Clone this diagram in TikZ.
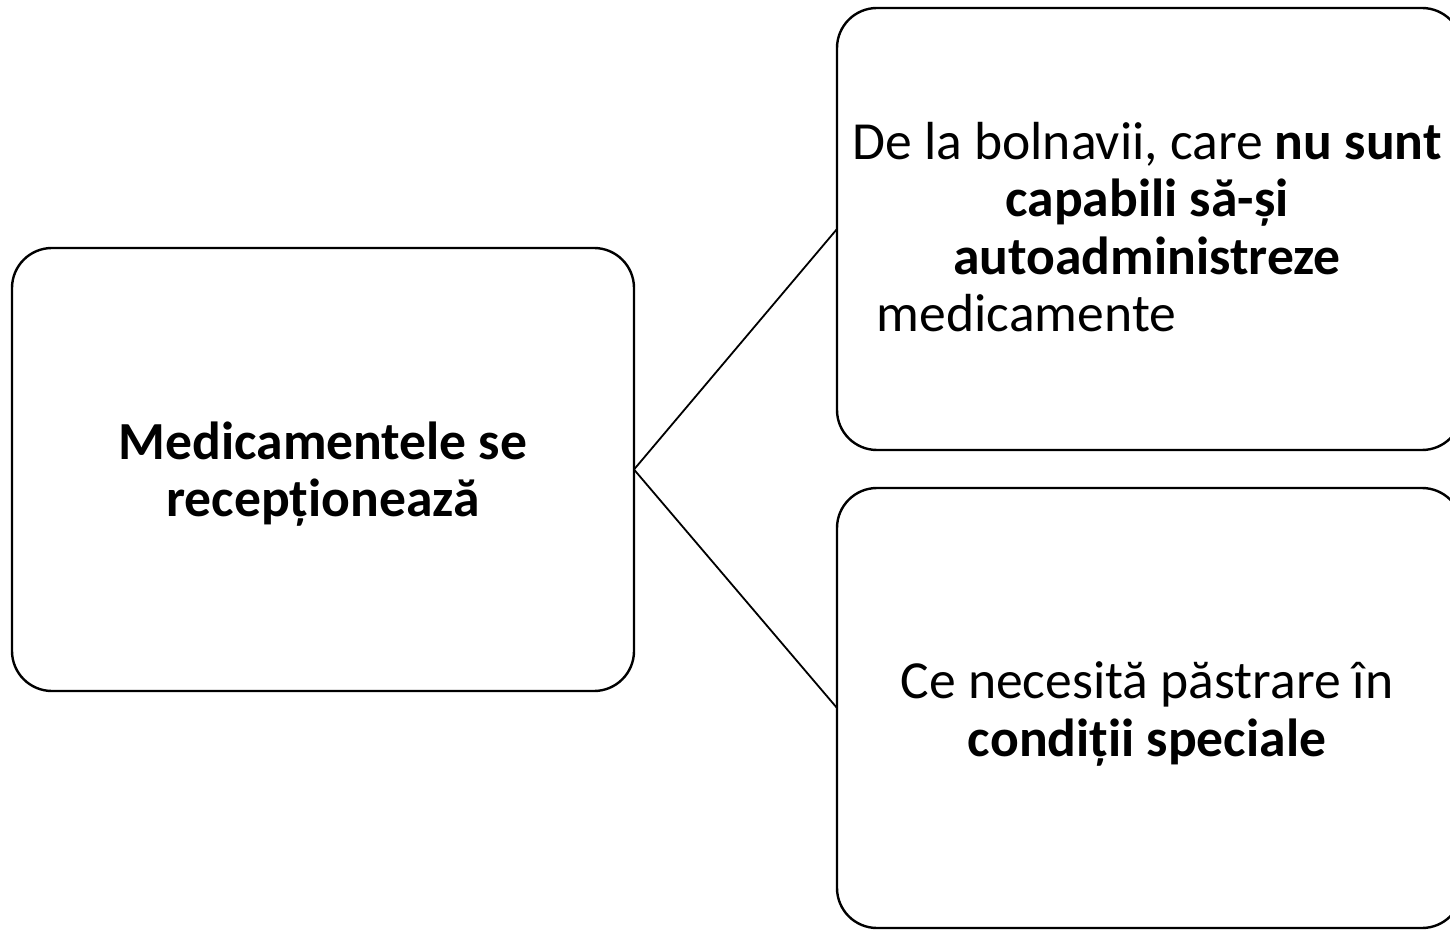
\documentclass[tikz,border=0pt]{standalone}
\usepackage{fontspec}
\setmainfont{Carlito}
\begin{document}
\begin{tikzpicture}[x=0.5pt,y=-0.5pt,
  box/.style={draw=black, line width=1.2pt, rounded corners=20pt, fill=white},
  txt/.style={align=center, font=\fontsize{26.8pt}{28.8pt}\selectfont, inner sep=0pt},
  link/.style={draw=black, line width=0.9pt}]
\useasboundingbox (0,0) rectangle (1450,930);
\draw[box] (12,248) rectangle (634,691);
\draw[box] (837,8) rectangle (1462,450);
\draw[box] (837,488) rectangle (1462,928);
\coordinate (L) at (634,469.5);
\coordinate (A) at (837,229);
\coordinate (B) at (837,708);
\draw[link] (L) -- (A);
\draw[link] (L) -- (B);
\node[txt] (tl) at (323,474) {\textbf{Medicamentele se}\\\textbf{recepționează}};
\node[txt] (ta) at (1147,227) {De la bolnavii, care \textbf{nu sunt}\\\textbf{capabili să-și}\\\textbf{autoadministreze}\\medicamente\hspace*{120.5pt}};
\node[txt] (tb) at (1147,714) {Ce necesită păstrare în\\\textbf{condiții speciale}};
\end{tikzpicture}
\end{document}
